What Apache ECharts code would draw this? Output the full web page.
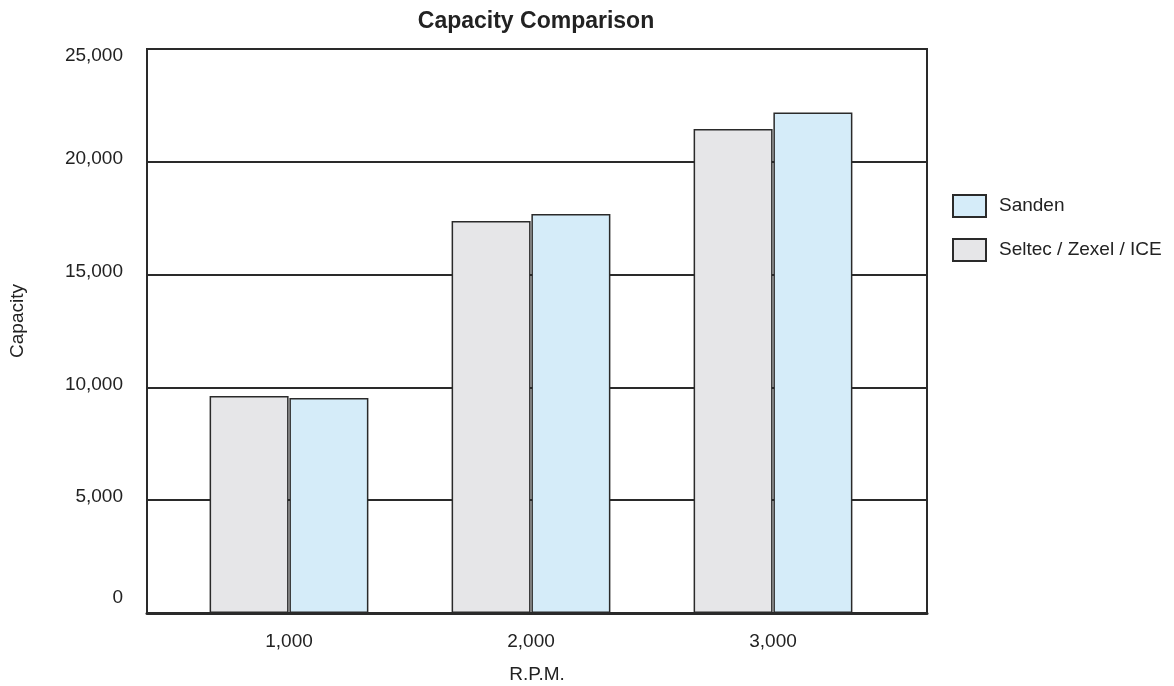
<!DOCTYPE html>
<html>
<head>
<meta charset="utf-8">
<script src="https://cdn.jsdelivr.net/npm/echarts@6/dist/echarts.min.js"></script>
<style>
html,body{margin:0;padding:0;background:#fff;}
#chart{width:1174px;height:686px;}
</style>
</head>
<body>
<div id="chart"></div>
<script>
var categories = ['1,000', '2,000', '3,000'];
var seltec = [9620, 17380, 21450];
var sanden = [9530, 17690, 22180];
var seriesNames = ['Sanden', 'Seltec / Zexel / ICE'];
var yTicks = [0, 5000, 10000, 15000, 20000, 25000];

var FONT = '"Liberation Sans", Arial, sans-serif';
var INK = '#2a2a2a';
var TXT = '#222';
var chart = echarts.init(document.getElementById('chart'));
function fmt(v){ return String(v).replace(/\B(?=(\d{3})+(?!\d))/g, ','); }
var yMin = yTicks[0], yMax = yTicks[yTicks.length - 1];

chart.setOption({
  animation: false,
  textStyle: { fontFamily: FONT },
  title: {
    text: 'Capacity Comparison',
    left: 531, top: 5, textAlign: 'center',
    textStyle: { fontFamily: FONT, fontSize: 23, fontWeight: 'bold', color: TXT }
  },
  legend: {
    orient: 'vertical', left: 947, top: 189,
    itemWidth: 33, itemHeight: 22, itemGap: 20,
    icon: 'rect',
    data: [seriesNames[0], seriesNames[1]],
    textStyle: { fontFamily: FONT, fontSize: 19, color: TXT, padding: [0, 0, 0, 8] }
  },
  grid: [
    { left: 147, right: 247, top: 49, bottom: 73, show: true, borderColor: INK, borderWidth: 2, outerBoundsMode: 'none', containLabel: false },
    { left: 168, right: 280, top: 49, bottom: 73, outerBoundsMode: 'none', containLabel: false }
  ],
  xAxis: [
    { gridIndex: 0, type: 'value', min: 0, max: 1,
      name: 'R.P.M.', nameLocation: 'middle', nameGap: 52,
      nameTextStyle: { fontFamily: FONT, fontSize: 19, color: TXT },
      axisLine: { show: true, lineStyle: { color: INK, width: 3 } },
      axisTick: { show: false }, axisLabel: { show: false }, splitLine: { show: false } },
    { gridIndex: 1, type: 'category', data: categories,
      axisLine: { show: false }, axisTick: { show: false },
      axisLabel: { margin: 19, fontFamily: FONT, fontSize: 19, color: TXT } }
  ],
  yAxis: [
    { gridIndex: 0, type: 'value', min: yMin, max: yMax, interval: 5000,
      name: 'Capacity', nameLocation: 'middle', nameGap: 120, nameRotate: 90,
      nameTextStyle: { fontFamily: FONT, fontSize: 19, color: TXT, padding: [0, 0, 0, 20] },
      axisLine: { show: true, lineStyle: { color: INK, width: 2 } },
      axisTick: { show: false },
      axisLabel: {
        margin: 24, fontFamily: FONT, fontSize: 19, color: TXT,
        formatter: function (v) {
          var key = v === yMin ? 'z' : (v === yMax ? 't' : 'a');
          return '{' + key + '|' + fmt(v) + '}';
        },
        rich: {
          a: { fontFamily: FONT, fontSize: 19, color: TXT, padding: [0, 0, 6, 0] },
          z: { fontFamily: FONT, fontSize: 19, color: TXT, padding: [0, 0, 30, 0] },
          t: { fontFamily: FONT, fontSize: 19, color: TXT, padding: [14, 0, 0, 0] }
        }
      },
      splitLine: { show: true, lineStyle: { color: INK, width: 2 } } },
    { gridIndex: 1, type: 'value', min: yMin, max: yMax, interval: 5000,
      show: false, splitLine: { show: false } }
  ],
  series: [
    { name: seriesNames[1], type: 'bar', xAxisIndex: 1, yAxisIndex: 1, data: seltec,
      barWidth: 79, barGap: '1%',
      itemStyle: { color: '#e6e6e8', borderColor: INK, borderWidth: 1.5 } },
    { name: seriesNames[0], type: 'bar', xAxisIndex: 1, yAxisIndex: 1, data: sanden,
      barWidth: 79,
      itemStyle: { color: '#d5ecf9', borderColor: INK, borderWidth: 1.5 } }
  ]
});
</script>
</body>
</html>
